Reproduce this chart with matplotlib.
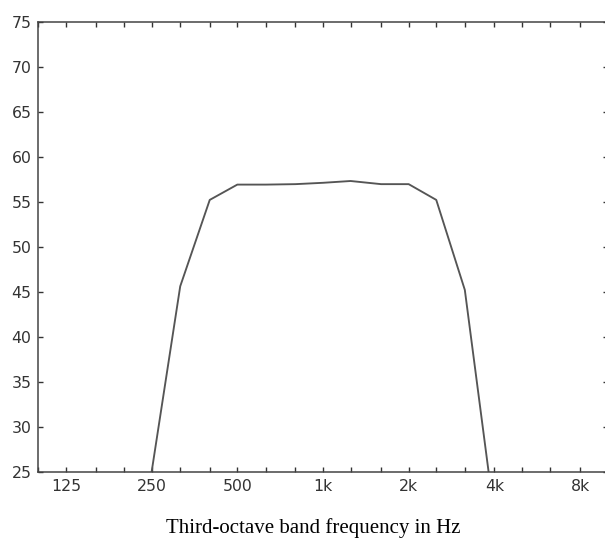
import matplotlib
matplotlib.use("Agg")
import matplotlib.pyplot as plt
from matplotlib.ticker import FixedLocator, NullLocator, NullFormatter

# Data
freqs = [250, 315, 400, 500, 630, 800, 1000, 1250, 1600, 2000, 2500, 3150, 4000]
levels = [25.0, 45.6, 55.2, 56.9, 56.9, 56.95, 57.1, 57.3, 56.95, 56.95, 55.2, 45.2, 20.1]

tick_freqs = [100, 125, 160, 200, 250, 315, 400, 500, 630, 800, 1000, 1250, 1600,
              2000, 2500, 3150, 4000, 5000, 6300, 8000, 10000]
label_freqs = [125, 250, 500, 1000, 2000, 4000, 8000]
label_texts = ["125", "250", "500", "1k", "2k", "4k", "8k"]
yticks = [25, 30, 35, 40, 45, 50, 55, 60, 65, 70, 75]

W, H = 605, 544
fig = plt.figure(figsize=(W / 100, H / 100), dpi=100)
left, right, top, bottom = 38.4, 607.6, 21.7, 471.7
ax = fig.add_axes([left / W, 1 - bottom / H, (right - left) / W, (bottom - top) / H])

ax.plot(freqs, levels, color="#555555", lw=1.35, clip_on=True)
ax.set_xscale("log")
ax.set_xlim(100, 10000)
ax.set_ylim(25, 75)

ax.xaxis.set_major_locator(FixedLocator(tick_freqs))
labels = [label_texts[label_freqs.index(f)] if f in label_freqs else "" for f in tick_freqs]
ax.set_xticklabels(labels)
ax.xaxis.set_minor_locator(NullLocator())
ax.xaxis.set_minor_formatter(NullFormatter())
ax.set_yticks(yticks)
ax.set_yticklabels([str(v) for v in yticks])

ax.tick_params(axis="both", which="major", direction="in", length=3.3, width=1.0,
               color="#333333", labelsize=11.3, labelcolor="#333333",
               top=True, right=True, pad=5.0)
for s in ax.spines.values():
    s.set_color("#444444")
    s.set_linewidth(1.1)
ax.spines["right"].set_visible(False)

fig.text(313 / W, 1 - 533.5 / H, "Third-octave band frequency in Hz",
         family="Liberation Serif", fontsize=15, color="black",
         ha="center", va="baseline")

fig.savefig("out.png", dpi=100)
